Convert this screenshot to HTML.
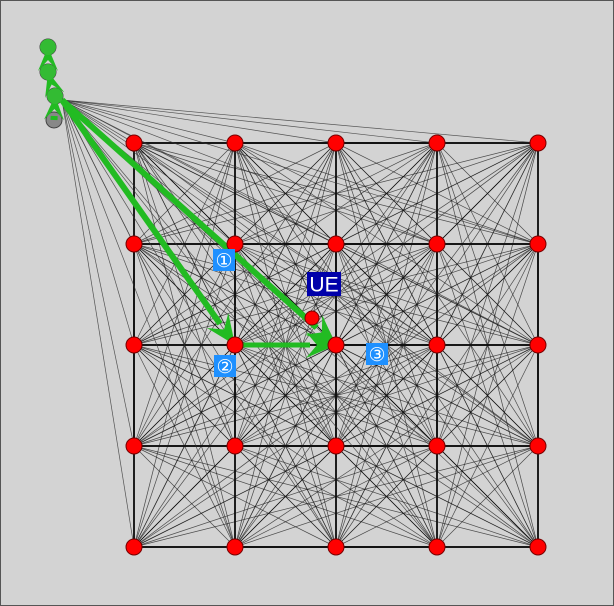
<!DOCTYPE html>
<html><head><meta charset="utf-8"><style>
html,body{margin:0;padding:0;background:#fff}
svg{display:block}
</style></head><body>
<svg id="c" width="614" height="606" viewBox="0 0 614 606">
<rect x="0.5" y="0.5" width="613" height="605" fill="#d3d3d3" stroke="#555"/>
<g id="lines"></g><g id="src"></g><g id="nodes"></g><g id="arrows"></g><g id="nodes2"></g><g id="labels"></g>
</svg>
<script>
const cols=[0,1,2,3,4];
const rows=[0,1,2,3,4];
const greyNodes=[[48,47],[48,72],[55,96],[54,120]];
const sourcePt=[62,100];
const ue=[312,318];
function X(i){return 134+i*101;}
function Y(j){return 143+j*101;}
const NS='http://www.w3.org/2000/svg';
function mk(t,a,p){const e=document.createElementNS(NS,t);for(const k in a)e.setAttribute(k,a[k]);p.appendChild(e);return e;}
const L=document.getElementById('lines'),S=document.getElementById('src'),A=document.getElementById('arrows'),N=document.getElementById('nodes'),N2=document.getElementById('nodes2'),T=document.getElementById('labels');
const pts=[];rows.forEach(j=>cols.forEach(i=>pts.push([X(i),Y(j)])));
for(let a=0;a<pts.length;a++)for(let b=a+1;b<pts.length;b++){
  const adj=(pts[a][0]===pts[b][0]||pts[a][1]===pts[b][1]);
  const l=mk('line',{x1:pts[a][0],y1:pts[a][1],x2:pts[b][0],y2:pts[b][1],stroke:'#111','stroke-width':adj?1.4:0.7,'stroke-opacity':adj?0.95:0.7},L);
  
  
}
pts.forEach(p=>{const l=mk('line',{x1:sourcePt[0],y1:sourcePt[1],x2:p[0],y2:p[1],stroke:'#333','stroke-width':0.7,'stroke-opacity':0.8},S);
  
  });
greyNodes.forEach(g=>{const c=mk('circle',{cx:g[0],cy:g[1],r:8,fill:'#888',stroke:'#444','stroke-width':1},N);
  
  });
function arrow(x1,y1,x2,y2,w,hs){
  const g=mk('g',{},A);
  
  
  const dx=x2-x1,dy=y2-y1,len=Math.hypot(dx,dy),ux=dx/len,uy=dy/len;
  const bx=x2-ux*hs*2,by=y2-uy*hs*2;
  mk('line',{x1:x1,y1:y1,x2:bx,y2:by,stroke:'#22bb22','stroke-width':w},g);
  mk('polygon',{points:`${x2},${y2} ${bx-ux*4-uy*hs},${by-uy*4+ux*hs} ${bx+ux*7},${by+uy*7} ${bx-ux*4+uy*hs},${by-uy*4-ux*hs}`,fill:'#22bb22'},g);
}
arrow(sourcePt[0],sourcePt[1],X(1),Y(2),6,13);
arrow(sourcePt[0],sourcePt[1],X(2),Y(2),6,13);
arrow(X(1),Y(2),X(2),Y(2),5,13);
[[48,72,48,47],[55,96,48,72],[54,120,55,96]].forEach(a=>arrow(a[0],a[1],a[2],a[3],7,10));
greyNodes.slice(0,3).forEach(g=>{mk('circle',{cx:g[0],cy:g[1],r:8,fill:'#33bb33'},A);});
pts.forEach(p=>{const c=mk('circle',{cx:p[0],cy:p[1],r:8,fill:'#ff0000',stroke:'#700','stroke-width':1},N2);
  
  });
const u=mk('circle',{cx:ue[0],cy:ue[1],r:7,fill:'#ff0000',stroke:'#700','stroke-width':1},N2);


function label(x,y,w,h,txt,bg,fs){
  const g=mk('g',{},T);
  
  
  mk('rect',{x:x,y:y,width:w,height:h,fill:bg},g);
  const t=mk('text',{x:x+w/2,y:y+h/2+fs*0.36,'text-anchor':'middle','font-family':'Liberation Sans, DejaVu Sans, sans-serif','font-size':fs,fill:'#fff'},g);
  t.textContent=txt;
}
label(307,272,34,24,'UE','#0000aa',21);
label(213,249,22,22,'①','#1e90ff',19);
label(214,355,22,22,'②','#1e90ff',19);
label(366,343,22,22,'③','#1e90ff',19);
</script>
</body></html>
